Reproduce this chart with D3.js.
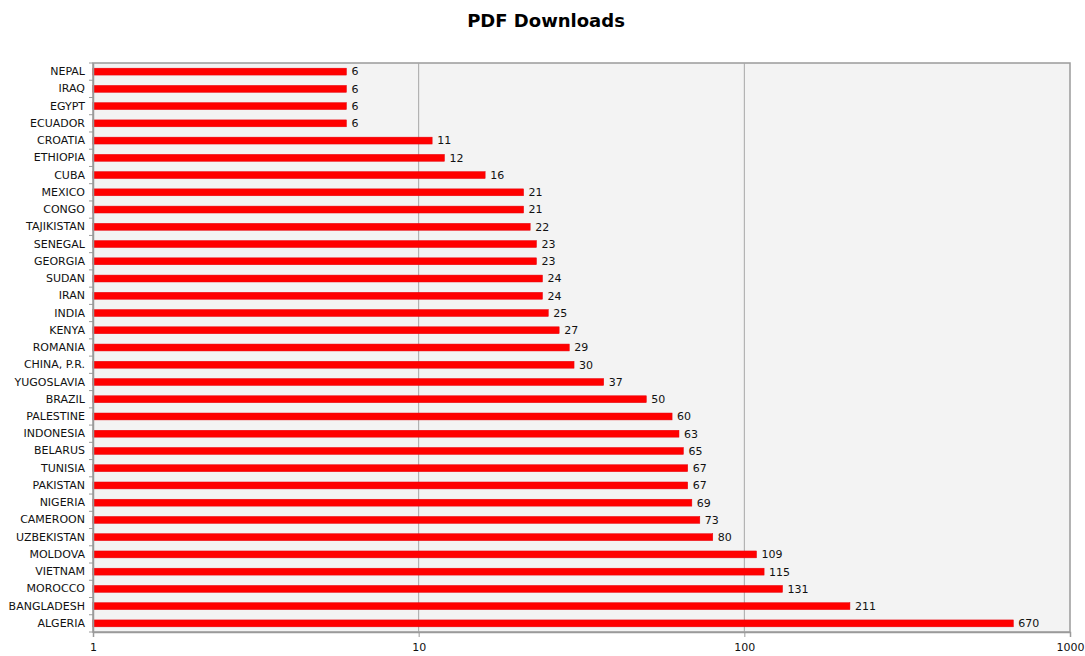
<!DOCTYPE html>
<html>
<head>
<meta charset="utf-8">
<script src="https://cdn.jsdelivr.net/npm/d3@7"></script>
<style>
body { margin: 0; background: #fff; }
svg text { font-family: "DejaVu Sans", Verdana, sans-serif; }
</style>
</head>
<body>
<div id="chart"></div>
<script>
var width = 1085;
var height = 656;

var countries = ["NEPAL", "IRAQ", "EGYPT", "ECUADOR", "CROATIA", "ETHIOPIA", "CUBA", "MEXICO",
	"CONGO", "TAJIKISTAN", "SENEGAL", "GEORGIA", "SUDAN", "IRAN", "INDIA", "KENYA", "ROMANIA",
	"CHINA, P.R.", "YUGOSLAVIA", "BRAZIL", "PALESTINE", "INDONESIA", "BELARUS", "TUNISIA",
	"PAKISTAN", "NIGERIA", "CAMEROON", "UZBEKISTAN", "MOLDOVA", "VIETNAM", "MOROCCO",
	"BANGLADESH", "ALGERIA"];
var downloads = [6, 6, 6, 6, 11, 12, 16, 21, 21, 22, 23, 23, 24, 24, 25, 27, 29, 30, 37, 50,
	60, 63, 65, 67, 67, 69, 73, 80, 109, 115, 131, 211, 670];
var xTicks = [1, 10, 100, 1000];

var margin = { top: 63, right: 15, bottom: 24, left: 93 };
var plotW = width - margin.left - margin.right;
var plotH = height - margin.top - margin.bottom;

var svg = d3.select("#chart").append("svg")
	.attr("width", width)
	.attr("height", height);

svg.append("text")
	.attr("x", 546)
	.attr("y", 27)
	.attr("text-anchor", "middle")
	.style("font-size", "18px")
	.style("font-weight", "bold")
	.text("PDF Downloads");

var g = svg.append("g").attr("transform", "translate(" + margin.left + "," + margin.top + ")");

var x = d3.scaleLog().domain([1, 1000]).range([0, plotW]);
var y = d3.scaleBand().domain(countries).range([0, plotH]).paddingInner(0.6).paddingOuter(0.3);

// plot background
g.append("rect")
	.attr("width", plotW)
	.attr("height", plotH)
	.attr("fill", "#f3f3f3")
	.attr("stroke", "#9a9a9a")
	.attr("stroke-width", 1.5);

// grid lines
g.selectAll(".grid")
	.data(xTicks.slice(1, -1))
	.enter()
	.append("line")
		.attr("x1", function(d) { return x(d); })
		.attr("x2", function(d) { return x(d); })
		.attr("y1", 0)
		.attr("y2", plotH)
		.attr("stroke", "#a6a6a6")
		.attr("stroke-width", 1);

// bars
g.selectAll(".bar")
	.data(downloads)
	.enter()
	.append("rect")
		.attr("x", 0)
		.attr("y", function(d, i) { return y(countries[i]); })
		.attr("width", function(d) { return x(d); })
		.attr("height", y.bandwidth())
		.attr("fill", "#ff0000")
		.attr("stroke", "#e8000b")
		.attr("stroke-width", 0.5);

// value labels
g.selectAll(".val")
	.data(downloads)
	.enter()
	.append("text")
		.attr("x", function(d) { return x(d) + 5; })
		.attr("y", function(d, i) { return y(countries[i]) + y.bandwidth() / 2; })
		.attr("dy", "0.35em")
		.style("font-size", "11px")
		.attr("fill", "#111")
		.text(function(d) { return d; });

// y axis
var yAxis = g.append("g").call(d3.axisLeft(y).tickSize(0).tickPadding(8));
yAxis.select(".domain").attr("stroke", "#9a9a9a").attr("stroke-width", 1.5);
yAxis.selectAll("text").style("font-size", "11px").attr("fill", "#111");

// category separator ticks
var step = plotH / countries.length;
g.selectAll(".ytick")
	.data(d3.range(countries.length + 1))
	.enter()
	.append("line")
		.attr("x1", -4)
		.attr("x2", 0)
		.attr("y1", function(d) { return d * step; })
		.attr("y2", function(d) { return d * step; })
		.attr("stroke", "#9a9a9a");

// x axis
var xAxis = g.append("g")
	.attr("transform", "translate(0," + plotH + ")")
	.call(d3.axisBottom(x).tickValues(xTicks).tickFormat(d3.format("d")).tickSize(5).tickPadding(6));
xAxis.select(".domain").attr("stroke", "#9a9a9a").attr("stroke-width", 1.5);
xAxis.selectAll(".tick line").attr("stroke", "#9a9a9a");
xAxis.selectAll("text").style("font-size", "11px").attr("fill", "#111");
</script>
</body>
</html>
